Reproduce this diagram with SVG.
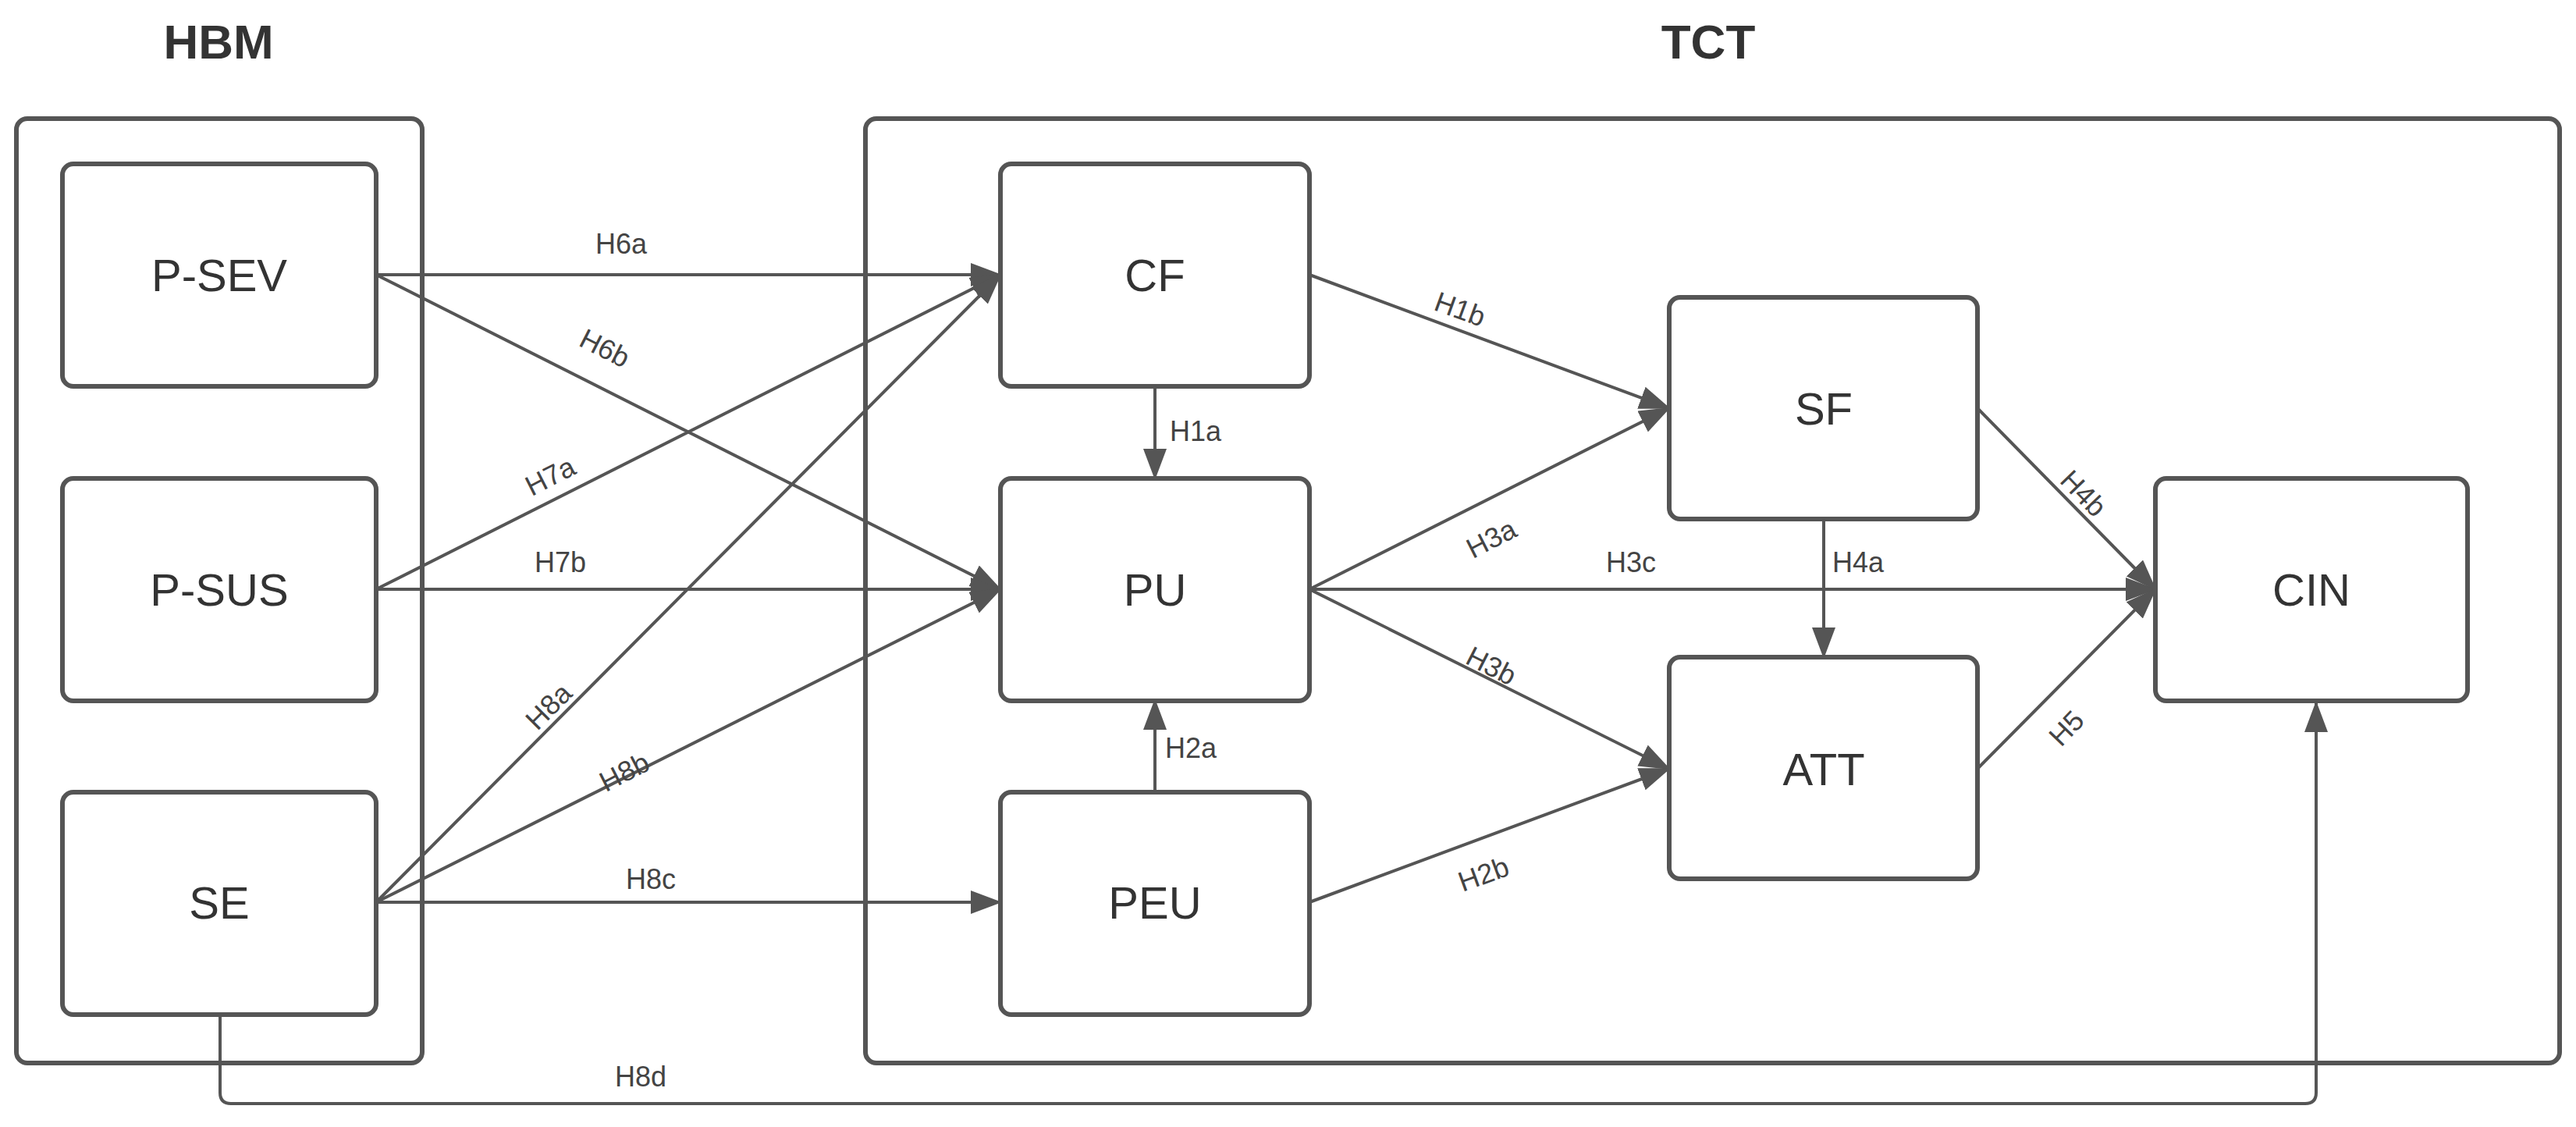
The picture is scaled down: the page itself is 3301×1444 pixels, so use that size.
<svg xmlns="http://www.w3.org/2000/svg" width="3301" height="1444" viewBox="0 0 3301 1444">
<style>
.frame{fill:none;stroke:#555;stroke-width:6}
.node{fill:#fff;stroke:#555;stroke-width:6}
.nt{font-family:"Liberation Sans",Arial,sans-serif;font-size:58px;fill:#333;text-anchor:middle;dominant-baseline:central}
.tt{font-family:"Liberation Sans",Arial,sans-serif;font-size:62px;font-weight:bold;fill:#333;text-anchor:middle;dominant-baseline:central}
.lb{font-family:"Liberation Sans",Arial,sans-serif;font-size:36px;fill:#444;text-anchor:middle;dominant-baseline:central}
.c{fill:none;stroke:#555;stroke-width:4;marker-end:url(#ah)}
</style>
<defs>
<marker id="ah" markerUnits="userSpaceOnUse" markerWidth="40" markerHeight="30" refX="38" refY="15" orient="auto">
<path d="M0,0 L40,15 L0,30 Z" fill="#555"/>
</marker>
</defs>
<rect width="3301" height="1444" fill="#fff"/>
<text class="tt" x="280" y="53">HBM</text>
<text class="tt" x="2189" y="53">TCT</text>
<rect class="frame" x="21" y="152" width="520" height="1210" rx="14"/>
<rect class="frame" x="1109" y="152" width="2171" height="1210" rx="14"/>
<g id="connectors">
<path class="c" d="M482,352 L1282,352"/>
<path class="c" d="M482,352 L1282,755"/>
<path class="c" d="M482,755 L1282,352"/>
<path class="c" d="M482,755 L1282,755"/>
<path class="c" d="M482,1156 L1282,352"/>
<path class="c" d="M482,1156 L1282,755"/>
<path class="c" d="M482,1156 L1282,1156"/>
<path class="c" d="M282,1299 L282,1400 Q282,1414 296,1414 L2954,1414 Q2968,1414 2968,1400 L2968,900"/>
<path class="c" d="M1480,495 L1480,613"/>
<path class="c" d="M1480,1015 L1480,897"/>
<path class="c" d="M1678,352 L2139,523"/>
<path class="c" d="M1678,755 L2139,523"/>
<path class="c" d="M1678,755 L2762,755"/>
<path class="c" d="M1678,755 L2139,985"/>
<path class="c" d="M1678,1156 L2139,985"/>
<path class="c" d="M2337,665 L2337,842"/>
<path class="c" d="M2534,523 L2762,755"/>
<path class="c" d="M2534,985 L2762,755"/>
<text class="lb" x="796" y="312">H6a</text>
<text class="lb" x="775" y="446" transform="rotate(27 775 446)">H6b</text>
<text class="lb" x="705" y="610" transform="rotate(-27 705 610)">H7a</text>
<text class="lb" x="718" y="720">H7b</text>
<text class="lb" x="703" y="905" transform="rotate(-45 703 905)">H8a</text>
<text class="lb" x="800" y="989" transform="rotate(-27 800 989)">H8b</text>
<text class="lb" x="834" y="1126">H8c</text>
<text class="lb" x="821" y="1379">H8d</text>
<text class="lb" x="1532" y="552">H1a</text>
<text class="lb" x="1526" y="958">H2a</text>
<text class="lb" x="1871" y="396" transform="rotate(20 1871 396)">H1b</text>
<text class="lb" x="1911" y="690" transform="rotate(-27 1911 690)">H3a</text>
<text class="lb" x="2090" y="720">H3c</text>
<text class="lb" x="1911" y="853" transform="rotate(27 1911 853)">H3b</text>
<text class="lb" x="1901" y="1120" transform="rotate(-20 1901 1120)">H2b</text>
<text class="lb" x="2381" y="720">H4a</text>
<text class="lb" x="2670" y="632" transform="rotate(46 2670 632)">H4b</text>
<text class="lb" x="2648" y="933" transform="rotate(-46 2648 933)">H5</text>
</g>
<g id="P-SEV"><rect class="node" x="80" y="210" width="402" height="285" rx="14"/><text class="nt" x="281" y="352">P-SEV</text></g>
<g id="P-SUS"><rect class="node" x="80" y="613" width="402" height="285" rx="14"/><text class="nt" x="281" y="755">P-SUS</text></g>
<g id="SE"><rect class="node" x="80" y="1015" width="402" height="285" rx="14"/><text class="nt" x="281" y="1156">SE</text></g>
<g id="CF"><rect class="node" x="1282" y="210" width="396" height="285" rx="14"/><text class="nt" x="1480" y="352">CF</text></g>
<g id="PU"><rect class="node" x="1282" y="613" width="396" height="285" rx="14"/><text class="nt" x="1480" y="755">PU</text></g>
<g id="PEU"><rect class="node" x="1282" y="1015" width="396" height="285" rx="14"/><text class="nt" x="1480" y="1156">PEU</text></g>
<g id="SF"><rect class="node" x="2139" y="381" width="395" height="284" rx="14"/><text class="nt" x="2337" y="523">SF</text></g>
<g id="ATT"><rect class="node" x="2139" y="842" width="395" height="284" rx="14"/><text class="nt" x="2337" y="985">ATT</text></g>
<g id="CIN"><rect class="node" x="2762" y="613" width="400" height="285" rx="14"/><text class="nt" x="2962" y="755">CIN</text></g>
</svg>
